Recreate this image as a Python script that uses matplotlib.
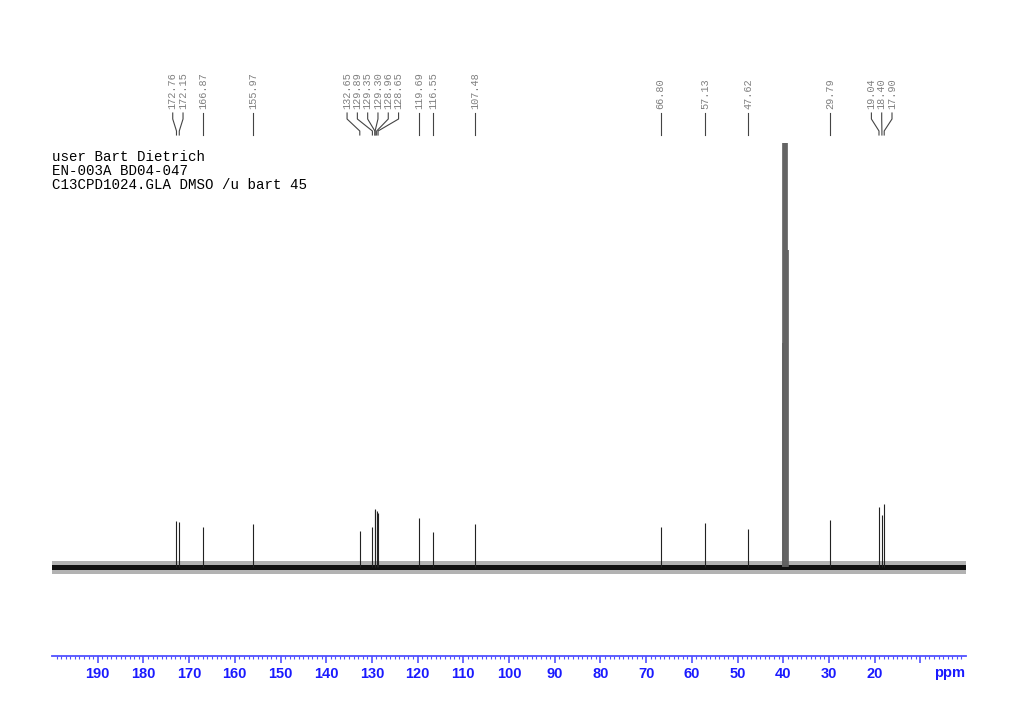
import matplotlib
matplotlib.use("Agg")
import matplotlib.pyplot as plt
import matplotlib.transforms as mtransforms
import numpy as np

# peak list (ppm) and heights (arbitrary units)
peakPpm = [172.76, 172.15, 166.87, 155.97, 132.65, 129.89, 129.35, 129.30,
           128.96, 128.65, 119.69, 116.55, 107.48, 66.80, 57.13, 47.62,
           29.79, 19.04, 18.40, 17.90]
peakHeight = [46, 45, 40, 43, 36, 40, 58, 57, 56, 54, 49, 35, 43, 40, 44, 38,
              47, 60, 52, 63]

# DMSO-d6 septet (not labelled, runs off the top)
solventPpm = [40.14, 39.94, 39.73, 39.52, 39.31, 39.10, 38.89]
solventHeight = [224, 800, 1400, 1650, 1400, 800, 317]

noiseLevel = 2.5
headerLines = ["user Bart Dietrich", "EN-003A BD04-047",
               "C13CPD1024.GLA DMSO /u bart 45"]
majorTicks = list(range(10, 200, 10))
majorLabels = ["" if t == 10 else str(t) for t in majorTicks]

W, H = 1024, 724
fig = plt.figure(figsize=(W / 100, H / 100), dpi=100)

def fy(px):
    # pixel row from the top -> figure fraction
    return 1 - px / H

ax = fig.add_axes([52 / W, fy(656), (966 - 52) / W, fy(143) - fy(656)])
ax.set_xlim(200, 0)
ax.set_ylim(-89, 424)

# baseline noise band
ax.fill_between([200, 0], -noiseLevel - 4, noiseLevel + 4, color="#555555", alpha=0.45, lw=0)
ax.fill_between([200, 0], -noiseLevel, noiseLevel, color="#111111", lw=0)

ax.vlines(peakPpm, 0, peakHeight, color="#222222", lw=0.8)
ax.vlines(solventPpm, 0, solventHeight, color="#606060", lw=1.2)

for s in ["top", "left", "right"]:
    ax.spines[s].set_visible(False)
blue = "#5050ff"
ax.spines["bottom"].set_color(blue)
ax.spines["bottom"].set_linewidth(1.3)
ax.set_yticks([])
ax.set_xticks(majorTicks)
ax.set_xticklabels(majorLabels, fontfamily="Liberation Sans", fontweight="bold",
                   fontsize=10.5, color="#1a1aff")
ax.set_xticks(np.arange(1, 200, 1), minor=True)
ax.tick_params(axis="x", which="major", length=5, width=1.2, color=blue, pad=3)
ax.tick_params(axis="x", which="minor", length=2.5, width=0.8, color=blue)
fig.text(965 / W, fy(673), "ppm", ha="right", va="center",
         fontfamily="Liberation Sans", fontweight="bold", fontsize=10.5,
         color="#1a1aff")

# header text
for i, line in enumerate(headerLines):
    fig.text(52 / W, fy(157 + 14 * i), line, fontfamily="Liberation Mono",
             fontsize=10.2, va="center", ha="left", color="black")

# spread peak labels so they don't overlap
minGap = 10.3 / ((966 - 52) / 200)
order = np.argsort(peakPpm)[::-1]
groups = [[i] for i in order]
def groupPos(g):
    c = np.mean([peakPpm[i] for i in g])
    n = len(g)
    return [c + minGap * ((n - 1) / 2 - k) for k in range(n)]
changed = True
while changed:
    changed = False
    for k in range(len(groups) - 1):
        if groupPos(groups[k])[-1] - groupPos(groups[k + 1])[0] < minGap:
            groups[k] = groups[k] + groups[k + 1]
            del groups[k + 1]
            changed = True
            break
labelPos = {}
for g in groups:
    for i, p in zip(g, groupPos(g)):
        labelPos[i] = p

trans = mtransforms.blended_transform_factory(ax.transData, fig.transFigure)
for i, p in enumerate(peakPpm):
    lx = labelPos[i]
    ax.text(lx, fy(109), "%.2f" % p, transform=trans, rotation=90,
            ha="center", va="bottom", fontfamily="Liberation Mono",
            fontsize=7.4, color="#808080", clip_on=False)
    ax.plot([lx, lx, p, p], [fy(113), fy(119), fy(131), fy(135)],
            transform=trans, color="#444444", lw=0.8, clip_on=False)

fig.savefig("out.png", dpi=100, facecolor="white")
